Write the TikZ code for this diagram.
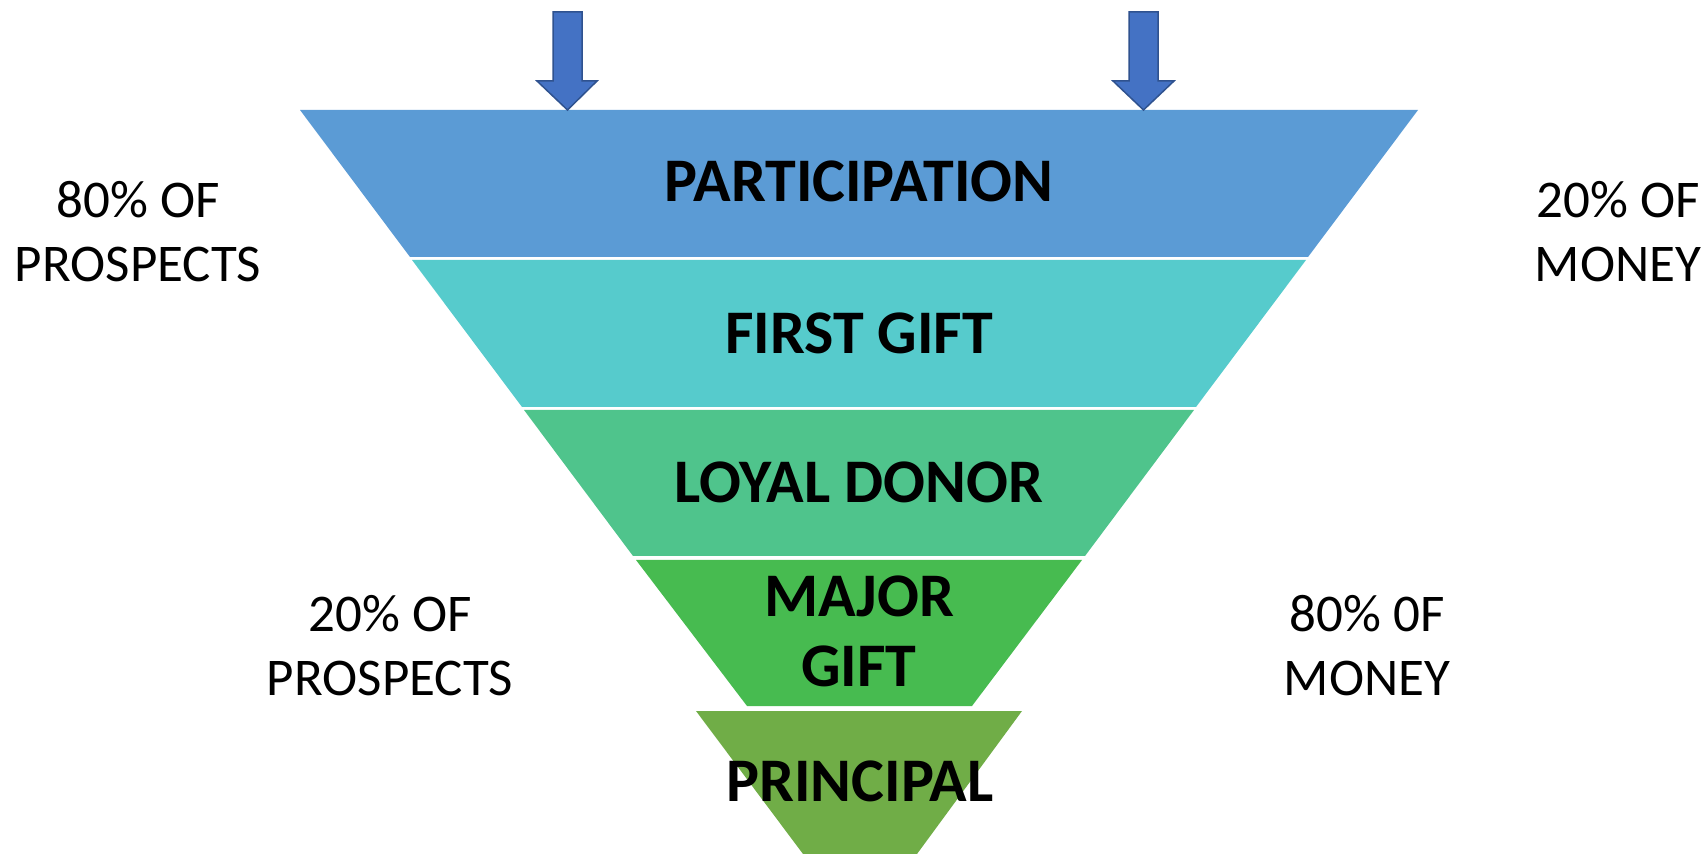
\documentclass[tikz,border=0pt]{standalone}
\usepackage{fontspec}
\setmainfont{Carlito}
\definecolor{partblue}{RGB}{91,155,213}
\definecolor{firstcyan}{RGB}{86,203,204}
\definecolor{loyalgreen}{RGB}{79,196,140}
\definecolor{majorgreen}{RGB}{71,187,80}
\definecolor{princgreen}{RGB}{112,173,71}
\definecolor{arrowfill}{RGB}{68,114,196}
\definecolor{arrowline}{RGB}{47,82,143}
\tikzset{
  level/.style={font=\fontsize{31}{35}\selectfont\bfseries, align=center, inner sep=0pt},
  share/.style={font=\fontsize{26.5}{32}\selectfont, align=center, inner sep=0pt},
  inarrow/.style={fill=arrowfill, draw=arrowline, line width=0.75pt, line join=miter}
}
\begin{document}
\begin{tikzpicture}[x=0.5pt,y=-0.5pt]
\useasboundingbox (0,0) rectangle (1706,854);
% funnel
\fill [partblue] (300,110) -- (1418,110) -- (1308,257) -- (410,257) -- cycle;
\fill [firstcyan] (412,260) -- (1306,260) -- (1196,407) -- (522,407) -- cycle;
\fill [loyalgreen] (524,410) -- (1194,410) -- (1085,556) -- (633,556) -- cycle;
\fill [majorgreen] (636,560) -- (1082,560) -- (972,706) -- (747,706) -- cycle;
\fill [princgreen] (696,711) -- (1022,711) -- (917,854) -- (803,854) -- cycle;

% arrows
\draw [inarrow] (553,12) -- (582,12) -- (582,81) -- (597,81) -- (567.5,110) -- (537,81) -- (553,81) -- cycle;
\draw [inarrow] (1129,12) -- (1158,12) -- (1158,81) -- (1174,81) -- (1143.5,110) -- (1113,81) -- (1129,81) -- cycle;

% nodes (base = last line)
\node [level, anchor=base] (part) at (859,202) {PARTICIPATION};
\node [level, anchor=base] (first) at (859,354) {FIRST GIFT};
\node [level, anchor=base] (loyal) at (859,503) {LOYAL DONOR};
\node [level, anchor=base] (major) at (859,686) {MAJOR\\GIFT};
\node [level, anchor=base] (princ) at (860,801) {PRINCIPAL};

\node [share, anchor=base] (prosp80) at (138,282) {80\% OF\\PROSPECTS};
\node [share, anchor=base] (money20) at (1618,282) {20\% OF\\MONEY};
\node [share, anchor=base] (prosp20) at (390,695) {20\% OF\\PROSPECTS};
\node [share, anchor=base] (money80) at (1367,695) {80\% 0F\\MONEY};

\end{tikzpicture}
\end{document}
